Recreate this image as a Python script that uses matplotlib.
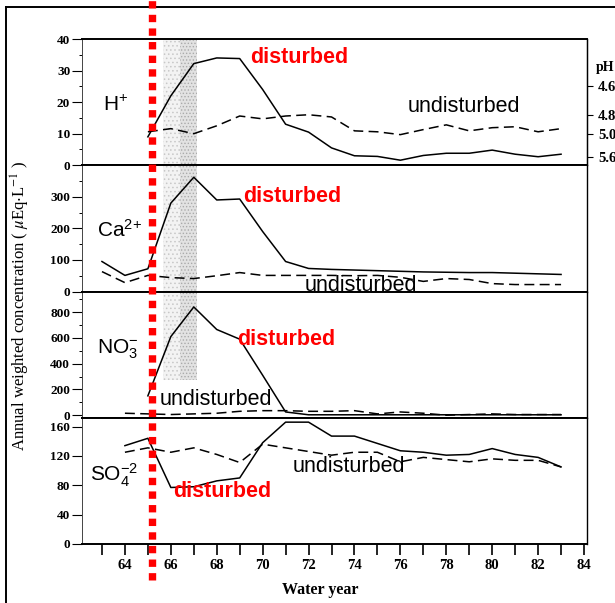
import numpy as np
import matplotlib
matplotlib.use("Agg")
import matplotlib.pyplot as plt
from matplotlib.lines import Line2D
from matplotlib.transforms import blended_transform_factory

plt.rcParams['font.family'] = ['Liberation Serif', 'DejaVu Serif']
plt.rcParams['mathtext.fontset'] = 'custom'
plt.rcParams['mathtext.rm'] = 'Liberation Sans'
plt.rcParams['mathtext.it'] = 'Liberation Sans:italic'
plt.rcParams['mathtext.bf'] = 'Liberation Sans:bold'
plt.rcParams['hatch.linewidth'] = 0.6

# data (water years 19xx)
years_h = list(range(65, 84))
h_disturbed = [9, 22, 32.2, 34, 33.8, 24, 13, 10.5, 5.5, 3, 2.8, 1.6, 3.1, 3.8, 3.8, 4.8, 3.5, 2.7, 3.5]
h_undisturbed = [10.6, 11.6, 10, 12.5, 15.6, 14.7, 15.6, 16, 15.3, 10.9, 10.6, 9.7, 11.3, 12.8, 10.9, 11.9, 12.2, 10.6, 11.6]

years_ca = list(range(63, 84))
ca_disturbed = [95, 51, 72, 280, 362, 290, 293, 190, 95, 73, 70, 68, 66, 64, 62, 61, 60, 60, 58, 56, 54]
ca_undisturbed = [63, 28, 51, 44, 41, 50, 60, 51, 51, 51, 51, 50, 51, 45, 32, 41, 38, 25, 22, 22, 22]

years_no3_d = list(range(65, 84))
no3_disturbed = [150, 610, 840, 665, 590, 310, 25, 3, 3, 3, 3, 3, 3, 3, 3, 3, 3, 3, 3]
years_no3_u = list(range(64, 84))
no3_undisturbed = [15, 10, 5, 10, 15, 30, 35, 35, 30, 30, 35, 10, 25, 15, 0, 5, 10, 5, 5, 5]

years_so4 = list(range(64, 84))
so4_disturbed = [134, 144, 77, 78, 86, 90, 138, 166, 166, 147, 147, 137, 127, 125, 121, 122, 130, 122, 118, 105]
so4_undisturbed = [125, 131, 125, 131, 122, 111, 136, 131, 126, 121, 125, 125, 112, 118, 115, 112, 116, 114, 114, 105]

ph_ticks = [4.6, 4.8, 5.0, 5.6]
cutting_year = 65.18

fig, axes = plt.subplots(4, 1, sharex=True, figsize=(6.15, 6.03), dpi=100,
                         gridspec_kw=dict(hspace=0))
fig.subplots_adjust(left=82/615, right=587/615, top=1-39/603, bottom=1-544/603)
ax1, ax2, ax3, ax4 = axes

dash = (0, (6.5, 3.5))
lw = 1.1
ax1.plot(years_h, h_disturbed, color='black', lw=lw)
ax1.plot(years_h, h_undisturbed, color='black', lw=lw, ls=dash)
ax2.plot(years_ca, ca_disturbed, color='black', lw=lw)
ax2.plot(years_ca, ca_undisturbed, color='black', lw=lw, ls=dash)
ax3.plot(years_no3_d, no3_disturbed, color='black', lw=lw)
ax3.plot(years_no3_u, no3_undisturbed, color='black', lw=lw, ls=dash)
ax4.plot(years_so4, so4_disturbed, color='black', lw=lw)
ax4.plot(years_so4, so4_undisturbed, color='black', lw=lw, ls=dash)

# stippled cutting period band
for ax, ymin in [(ax1, 0), (ax2, 0), (ax3, 0.3)]:
    ax.axvspan(65.66, 67.14, ymin=ymin, facecolor='#f3f3f3', edgecolor='#c8c8c8',
               hatch='....', lw=0, zorder=0)
    ax.axvspan(66.4, 67.14, ymin=ymin, facecolor='#e2e2e2', edgecolor='#aaaaaa',
               hatch='.....', lw=0, zorder=0)

ax1.set_ylim(0, 40)
ax2.set_ylim(0, 400)
ax3.set_ylim(-20, 960)
ax4.set_ylim(0, 172)
ax4.set_xlim(62.13, 84.13)

ax1.set_yticks([0, 10, 20, 30, 40])
ax1.set_yticks([5, 15, 25, 35], minor=True)
ax2.set_yticks([0, 100, 200, 300])
ax2.set_yticks([50, 150, 250, 350], minor=True)
ax3.set_yticks([0, 200, 400, 600, 800])
ax3.set_yticks([100, 300, 500, 700, 900], minor=True)
ax4.set_yticks([0, 40, 80, 120, 160])

ax4.set_xticks(range(63, 85))
ax4.set_xticklabels([str(y) if y % 2 == 0 else '' for y in range(63, 85)])

for ax in axes:
    ax.spines['left'].set_linewidth(0.7)
    ax.spines['left'].set_color('#444444')
    ax.spines['right'].set_linewidth(1.0)
    ax.spines['top'].set_linewidth(1.4)
    ax.spines['bottom'].set_linewidth(1.4)
    ax.tick_params(axis='y', which='major', direction='out', length=7, width=0.8,
                   labelsize=9.5, pad=1.5)
    ax.tick_params(axis='y', which='minor', direction='out', length=2.5, width=0.7)
    ax.tick_params(axis='x', which='both', bottom=False, top=False)
    for t in ax.get_yticklabels():
        t.set_fontweight('bold')
ax4.tick_params(axis='x', which='major', bottom=True, direction='out', length=8,
                width=1.2, labelsize=10.5, pad=3)
for t in ax4.get_xticklabels():
    t.set_fontweight('bold')

# pH scale on the right of the H+ panel
axr = ax1.twinx()
axr.set_ylim(0, 40)
axr.set_yticks([10 ** (6 - p) for p in ph_ticks])
axr.set_yticklabels([f'{p:.1f}' for p in ph_ticks], fontweight='bold')
axr.tick_params(axis='y', direction='out', length=4, width=0.8, labelsize=10.5, pad=4)
for s in ['top', 'bottom', 'left']:
    axr.spines[s].set_visible(False)
fig.text(596/615, 1-67/603, 'pH', fontsize=10, fontweight='bold', va='center', ha='left')

# labels inside panels
ion = dict(fontsize=15, family='Liberation Sans', va='center', ha='left')
red = dict(fontsize=15.5, family='Liberation Sans', fontweight='bold', color='red',
           va='center', ha='left')
und = dict(fontsize=15.5, family='Liberation Sans', va='center', ha='left')

ax1.text(63.05, 19, r'H$^{+}$', **ion)
ax1.text(69.45, 34, 'disturbed', **red)
ax1.text(76.3, 18.7, 'undisturbed', **und)

ax2.text(62.78, 194, r'Ca$^{2\!+}$', **ion)
ax2.text(69.15, 302, 'disturbed', **red)
ax2.text(71.85, 19, 'undisturbed', **und)

ax3.text(62.78, 513, r'NO$_{3}^{-}$', **ion)
ax3.text(68.9, 584, 'disturbed', **red)
ax3.text(65.53, 121, 'undisturbed', **und)

ax4.text(62.48, 94, r'SO$_{4}^{-2}$', **ion)
ax4.text(66.1, 71, 'disturbed', **red)
ax4.text(71.32, 105, 'undisturbed', **und)

fig.text(20/615, 1-306/603, r'Annual weighted concentration ( $\mu$Eq$\cdot$L$^{-1}$ )',
         rotation=90, fontsize=12, va='center', ha='center', math_fontfamily='stix')
fig.text(320/615, 1-590/603, 'Water year', fontsize=11.5, fontweight='bold',
         ha='center', va='center')

# red dotted marker for the cutting year, across the whole figure
trans = blended_transform_factory(ax4.transData, fig.transFigure)
fig.add_artist(Line2D([cutting_year, cutting_year], [1-580/603, 1.0], transform=trans,
                      color='red', lw=5.3, ls=(0, (1, 0.85)), solid_capstyle='butt',
                      dash_capstyle='butt', zorder=10))

# scanned page frame
fig.add_artist(Line2D([6/615, 6/615], [0, 1-7/603], color='black', lw=1.4))
fig.add_artist(Line2D([6/615, 1], [1-7/603, 1-7/603], color='black', lw=1.4))

fig.savefig('out.png', dpi=100)
